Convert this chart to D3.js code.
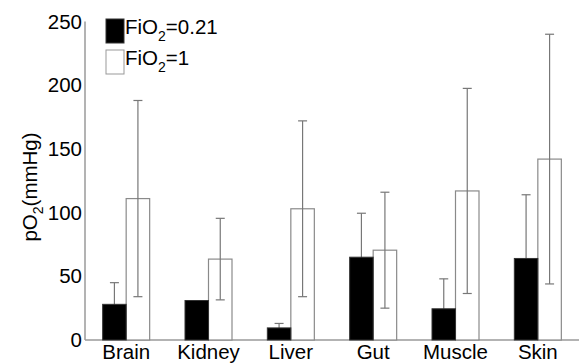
<!DOCTYPE html>
<html><head><meta charset="utf-8">
<script src="https://cdn.jsdelivr.net/npm/d3@7"></script>
<style>body{margin:0;background:#fff}svg{display:block}text{font-family:Arial,"Liberation Sans",sans-serif}</style>
</head><body>
<svg id="c" width="579" height="363"></svg>
<script>
const categories = ["Brain","Kidney","Liver","Gut","Muscle","Skin"];
const air = [28, 31, 9.5, 65, 24.5, 64];
const airErr = [17, 0, 3.5, 34.5, 23.5, 50];
const oxy = [111, 63.5, 103, 70.5, 117, 142];
const oxyErr = [77, 32, 69, 45.5, 80.5, 98];
const yTicks = [0, 50, 100, 150, 200, 250];

const svg = d3.select("#c");
const x = d3.scaleBand().domain(categories).range([85, 579]).padding(0);
const y = d3.scaleLinear().domain([0, 250]).range([340, 21.5]);
const bw = 23.5;
const fs = 20.5;

// axes
svg.append("line").attr("x1",85).attr("x2",85).attr("y1",y(250)).attr("y2",y(0)).attr("stroke","#9a9a9a").attr("stroke-width",1.5);
svg.append("line").attr("x1",85).attr("x2",579).attr("y1",y(0)).attr("y2",y(0)).attr("stroke","#9a9a9a").attr("stroke-width",1.5);

svg.selectAll(".yt").data(yTicks).enter().append("text")
  .attr("x",82).attr("y",d=>y(d)).attr("dy","0.35em").attr("text-anchor","end")
  .attr("font-size",fs).attr("fill","#000").text(d=>d);

svg.selectAll(".xt").data(categories).enter().append("text")
  .attr("x",d=>x(d)+x.bandwidth()/2).attr("y",359).attr("text-anchor","middle")
  .attr("font-size",fs).attr("fill","#000").text(d=>d);

// y label
const yl = svg.append("text").attr("transform","translate(37,187) rotate(-90)")
  .attr("text-anchor","middle").attr("font-size",fs).attr("fill","#000");
yl.append("tspan").text("pO");
yl.append("tspan").attr("font-size",14).attr("dy",6).text("2");
yl.append("tspan").attr("dy",-6).text("(mmHg)");

const g = svg.append("g");
const cx = d => x(d) + x.bandwidth()/2;

function errBars(vals, errs, off, col) {
  categories.forEach((c,i) => {
    if (!errs[i]) return;
    const xc = cx(c) + off;
    g.append("line").attr("x1",xc).attr("x2",xc).attr("y1",y(vals[i]+errs[i])).attr("y2",y(Math.max(0,vals[i]-errs[i]))).attr("stroke",col).attr("stroke-width",1.2);
    g.append("line").attr("x1",xc-4.5).attr("x2",xc+4.5).attr("y1",y(vals[i]+errs[i])).attr("y2",y(vals[i]+errs[i])).attr("stroke",col).attr("stroke-width",1.2);
    g.append("line").attr("x1",xc-4.5).attr("x2",xc+4.5).attr("y1",y(vals[i]-errs[i])).attr("y2",y(vals[i]-errs[i])).attr("stroke",col).attr("stroke-width",1.2);
  });
}
g.selectAll(".ob").data(categories).enter().append("rect")
  .attr("x",d=>cx(d)).attr("width",bw)
  .attr("y",(d,i)=>y(oxy[i])).attr("height",(d,i)=>y(0)-y(oxy[i]))
  .attr("fill","#fff").attr("stroke","#8a8a8a").attr("stroke-width",1.2);
errBars(oxy, oxyErr, bw/2, "#777");
errBars(air, airErr, -bw/2, "#777");
g.selectAll(".ab").data(categories).enter().append("rect")
  .attr("x",d=>cx(d)-bw).attr("width",bw)
  .attr("y",(d,i)=>y(air[i])).attr("height",(d,i)=>y(0)-y(air[i]))
  .attr("fill","#000").attr("stroke","#333").attr("stroke-width",1);

// legend
const lg = svg.append("g");
const items = [{fill:"#000",stroke:"#333",t:"=0.21",y:19},{fill:"#fff",stroke:"#999",t:"=1",y:50}];
items.forEach(it => {
  lg.append("rect").attr("x",106).attr("y",it.y).attr("width",18).attr("height",24).attr("fill",it.fill).attr("stroke",it.stroke).attr("stroke-width",1);
  const t = lg.append("text").attr("x",125).attr("y",it.y+15).attr("font-size",fs).attr("fill","#000");
  t.append("tspan").text("FiO");
  t.append("tspan").attr("font-size",14).attr("dy",7).text("2");
  t.append("tspan").attr("dy",-7).text(it.t);
});
</script>
</body></html>
